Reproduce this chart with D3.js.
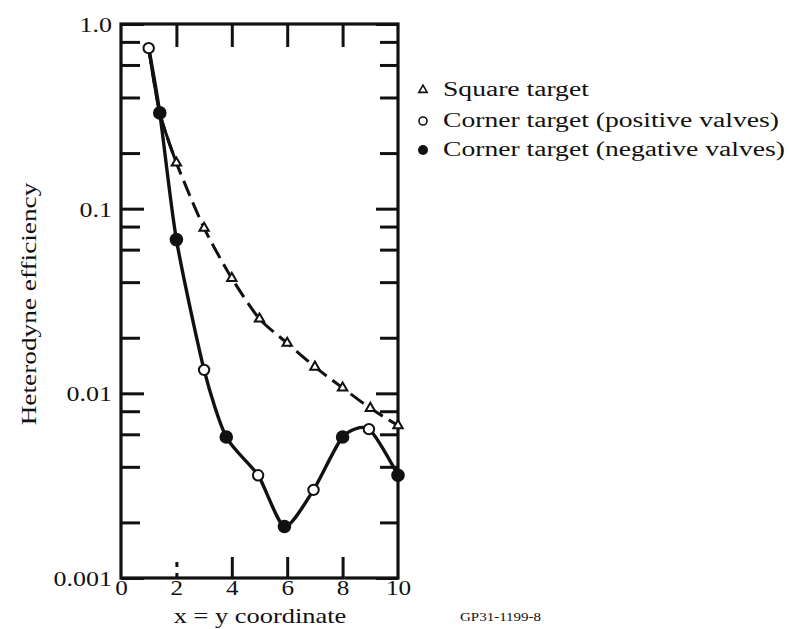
<!DOCTYPE html>
<html>
<head>
<meta charset="utf-8">
<script src="https://cdn.jsdelivr.net/npm/d3@7"></script>
<style>
  body { margin: 0; background: #fff; }
  svg { display: block; }
  text { font-family: "Liberation Serif", "Times New Roman", serif; fill: #111; }
</style>
</head>
<body>
<svg id="chart" width="789" height="629"></svg>

<script>
// values
const xTicks = [0, 2, 4, 6, 8, 10]
const yMajor = [1, 0.1, 0.01, 0.001]
const yMajorLabels = ["1.0", "0.1", "0.01", "0.001"]
const yMinor = [0.8, 0.6, 0.4, 0.2, 0.08, 0.06, 0.04, 0.02, 0.008, 0.006, 0.004, 0.002]

// square target (dashed line, triangles from x = 2)
const squareX = [1, 1.4, 2, 3, 4, 5, 6, 7, 8, 9, 10]
const squareY = [0.74, 0.33, 0.177, 0.0785, 0.042, 0.0253, 0.0187, 0.0139, 0.0107, 0.0083, 0.0067]
const squareMarked = [false, false, true, true, true, true, true, true, true, true, true]

// corner target, open = positive valves, filled = negative valves
const cornerX = [1, 1.4, 2, 3, 3.8, 4.95, 5.9, 6.95, 8, 8.95, 10]
const cornerY = [0.74, 0.33, 0.068, 0.0134, 0.0058, 0.0036, 0.0019, 0.003, 0.0058, 0.0064, 0.0036]
const cornerFilled = [false, true, true, false, true, false, true, false, true, false, true]

const legendLabels = ["Square target", "Corner target (positive valves)", "Corner target (negative valves)"]

const margin = { top: 24, right: 391, bottom: 51, left: 121 }
const W = 789, H = 629
const width = W - margin.left - margin.right
const height = H - margin.top - margin.bottom

const svg = d3.select("#chart")
const g = svg.append("g").attr("transform", `translate(${margin.left},${margin.top})`)

const x = d3.scaleLinear().domain([0, 10]).range([0, width])
const y = d3.scaleLog().domain([0.001, 1]).range([height, 0])

// widen a text horizontally, like the scan
function stretch(sel, k) {
  sel.each(function() {
    const t = d3.select(this)
    const tx = +t.attr("x") || 0, ty = +t.attr("y") || 0
    t.attr("transform", `translate(${tx},${ty}) scale(${k},1)`).attr("x", 0).attr("y", 0)
  })
}

const yTickVals = yMajor.concat(yMinor)
const fmtY = d => {
  const i = yMajor.indexOf(d)
  return i < 0 ? "" : yMajorLabels[i]
}

// left axis, ticks point inward
const leftAxis = g.append("g")
  .call(d3.axisLeft(y).tickValues(yTickVals).tickFormat(fmtY).tickSize(-19).tickPadding(9))
leftAxis.select(".domain").remove()
leftAxis.selectAll(".tick line").attr("stroke", "#111").attr("stroke-width", 3)
  .attr("x2", d => yMajor.includes(d) ? 23 : 19)
leftAxis.selectAll(".tick text").attr("font-size", 22).attr("dy", "0.34em")
  .each(function() { stretch(d3.select(this), 1.18) })

// right axis
const rightAxis = g.append("g").attr("transform", `translate(${width},0)`)
  .call(d3.axisRight(y).tickValues(yTickVals).tickFormat("").tickSize(-18))
rightAxis.select(".domain").remove()
rightAxis.selectAll(".tick line").attr("stroke", "#111").attr("stroke-width", 3)
  .attr("x2", d => yMajor.includes(d) ? -22 : -18)

// bottom axis
const bottomAxis = g.append("g").attr("transform", `translate(0,${height})`)
  .call(d3.axisBottom(x).tickValues(xTicks).tickSize(-21).tickPadding(2))
bottomAxis.select(".domain").remove()
bottomAxis.selectAll(".tick line").attr("stroke", "#111").attr("stroke-width", 3)
  .attr("stroke-dasharray", d => d === 2 ? "5,6" : null)
  .attr("opacity", d => (d === 0 || d === 10) ? 0 : 1)
bottomAxis.selectAll(".tick text").attr("font-size", 21)
  .each(function() { stretch(d3.select(this), 1.2) })

// top axis
const topAxis = g.append("g")
  .call(d3.axisTop(x).tickValues(xTicks).tickFormat("").tickSize(-23))
topAxis.select(".domain").remove()
topAxis.selectAll(".tick line").attr("stroke", "#111").attr("stroke-width", 3)
  .attr("opacity", d => (d === 0 || d === 10) ? 0 : 1)

// frame
g.append("rect").attr("width", width).attr("height", height)
  .attr("fill", "none").attr("stroke", "#111").attr("stroke-width", 3.2)

// curves
const line = d3.line().x(d => x(d[0])).y(d => y(d[1])).curve(d3.curveCardinal.tension(0.3))
const squarePts = squareX.map((v, i) => [v, squareY[i]])
const cornerPts = cornerX.map((v, i) => [v, cornerY[i]])

g.append("path").datum(squarePts).attr("d", line)
  .attr("fill", "none").attr("stroke", "#111").attr("stroke-width", 3)
  .attr("stroke-dasharray", "16,7")
// first stretch of the square curve is drawn solid
g.append("path").datum(squarePts.slice(0, 3)).attr("d", line)
  .attr("fill", "none").attr("stroke", "#111").attr("stroke-width", 3)
g.append("path").datum(cornerPts).attr("d", line)
  .attr("fill", "none").attr("stroke", "#111").attr("stroke-width", 3.4)

// triangles
const tri = d3.symbol().type(d3.symbolTriangle).size(38)
g.selectAll(".tri").data(squarePts.filter((d, i) => squareMarked[i])).join("path")
  .attr("class", "tri")
  .attr("transform", d => `translate(${x(d[0])},${y(d[1])})`)
  .attr("d", tri)
  .attr("fill", "#fff").attr("stroke", "#111").attr("stroke-width", 2)

// circles
g.selectAll(".pt").data(cornerPts).join("circle")
  .attr("class", "pt")
  .attr("cx", d => x(d[0])).attr("cy", d => y(d[1]))
  .attr("r", (d, i) => cornerFilled[i] ? 5.8 : 5.2)
  .attr("fill", (d, i) => cornerFilled[i] ? "#111" : "#fff")
  .attr("stroke", "#111").attr("stroke-width", 2)

// axis titles
const xt = svg.append("text").attr("x", 260).attr("y", 623)
  .attr("text-anchor", "middle").attr("font-size", 22).text("x = y coordinate")
stretch(xt, 1.2)

svg.append("text")
  .attr("transform", "translate(36,304) rotate(-90) scale(1.3,1)")
  .attr("text-anchor", "middle").attr("font-size", 21).text("Heterodyne efficiency")

const gp = svg.append("text").attr("x", 460).attr("y", 621)
  .attr("font-size", 12).text("GP31-1199-8")
stretch(gp, 1.25)

// legend
const lg = svg.append("g").attr("transform", "translate(423,0)")
const rowsY = [90, 121, 150]
lg.append("path").attr("transform", `translate(0,${rowsY[0]})`)
  .attr("d", d3.symbol().type(d3.symbolTriangle).size(30))
  .attr("fill", "#fff").attr("stroke", "#111").attr("stroke-width", 1.6)
lg.append("circle").attr("cy", rowsY[1]).attr("r", 4)
  .attr("fill", "#fff").attr("stroke", "#111").attr("stroke-width", 1.6)
lg.append("circle").attr("cy", rowsY[2]).attr("r", 5)
  .attr("fill", "#111")
legendLabels.forEach((t, i) => {
  const tx = lg.append("text").attr("x", 20).attr("y", rowsY[i] + 6)
    .attr("font-size", 20).text(t)
  stretch(tx, 1.38)
})
</script>
</body>
</html>
